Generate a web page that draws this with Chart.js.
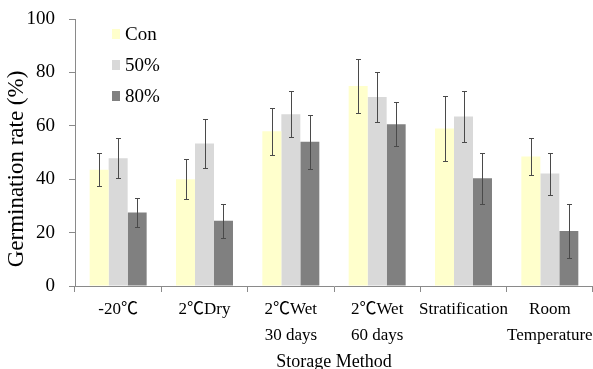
<!DOCTYPE html>
<html><head><meta charset="utf-8">
<script src="https://cdn.jsdelivr.net/npm/chart.js@4/dist/chart.umd.min.js"></script>
<style>html,body{margin:0;padding:0;background:#fff}#wrap{width:593px;height:369px}</style>
</head><body><div id="wrap"><canvas id="c" width="593" height="369"></canvas></div>
<script>
const categories = [['-20℃'], ['2℃Dry'], ['2℃Wet', '30 days'], ['2℃Wet', '60 days'], ['Stratification'], ['Room', 'Temperature']];
const seriesNames = ['Con', '50%', '80%'];
const conValues = [43.5, 40.0, 58.0, 74.9, 59.0, 48.5];
const conErrors = [6.2, 7.5, 8.8, 10.0, 12.2, 6.8];
const p50Values = [47.8, 53.4, 64.3, 70.8, 63.5, 42.1];
const p50Errors = [7.5, 9.1, 8.6, 9.5, 9.6, 7.9];
const p80Values = [27.5, 24.4, 54.0, 60.6, 40.4, 20.6];
const p80Errors = [5.3, 6.4, 10.0, 8.2, 9.6, 10.0];
const yTicks = [0, 20, 40, 60, 80, 100];
const xTitle = 'Storage Method';
const yTitle = 'Germination rate (%)';

const colors = ['#FFFFCC', '#D9D9D9', '#808080'];
const errorSets = [conErrors, p50Errors, p80Errors];
const FAM = "'Liberation Serif', 'Times New Roman', 'Noto Sans CJK SC', serif";
const axisColor = '#8a8a8a';

const errorBars = {
  id: 'errorBars',
  afterDatasetsDraw(chart) {
    const ctx = chart.ctx, ys = chart.scales.y;
    ctx.save();
    ctx.strokeStyle = '#4a4a4a';
    ctx.lineWidth = 1;
    chart.data.datasets.forEach((ds, i) => {
      const meta = chart.getDatasetMeta(i);
      meta.data.forEach((bar, j) => {
        const v = ds.data[j], e = errorSets[i][j];
        const x = Math.round(bar.x) + 0.5;
        const t = Math.round(ys.getPixelForValue(v + e)) + 0.5;
        const b = Math.round(ys.getPixelForValue(v - e)) + 0.5;
        ctx.beginPath();
        ctx.moveTo(x, t); ctx.lineTo(x, b);
        ctx.moveTo(x - 2.5, t); ctx.lineTo(x + 2.5, t);
        ctx.moveTo(x - 2.5, b); ctx.lineTo(x + 2.5, b);
        ctx.stroke();
      });
    });
    ctx.restore();
  }
};

const customLegend = {
  id: 'customLegend',
  afterDraw(chart) {
    const ctx = chart.ctx;
    ctx.save();
    ctx.font = '19px ' + FAM;
    ctx.textBaseline = 'middle';
    ctx.textAlign = 'left';
    chart.data.datasets.forEach((ds, i) => {
      const y = 34 + i * 31;
      ctx.fillStyle = ds.backgroundColor;
      ctx.fillRect(112, y - 5, 8, 10);
      ctx.fillStyle = '#000';
      ctx.fillText(ds.label, 125, y + 1);
    });
    // y axis title
    ctx.font = '23px ' + FAM;
    ctx.textAlign = 'center';
    ctx.textBaseline = 'alphabetic';
    ctx.translate(23, 169);
    ctx.rotate(-Math.PI / 2);
    ctx.fillText(yTitle, 0, 0);
    ctx.restore();
  }
};

const font = { family: FAM, size: 17, lineHeight: 1.5 };

new Chart(document.getElementById('c'), {
  type: 'bar',
  data: {
    labels: categories,
    datasets: [
      { label: seriesNames[0], data: conValues, backgroundColor: colors[0] },
      { label: seriesNames[1], data: p50Values, backgroundColor: colors[1] },
      { label: seriesNames[2], data: p80Values, backgroundColor: colors[2] }
    ]
  },
  options: {
    responsive: false,
    animation: false,
    devicePixelRatio: 1,
    layout: { padding: { top: 19, left: 0, right: 0, bottom: 0 } },
    datasets: { bar: { barPercentage: 1, categoryPercentage: 0.66 } },
    plugins: { legend: { display: false }, tooltip: { enabled: false } },
    scales: {
      x: {
        grid: { display: true, drawOnChartArea: false, color: axisColor, tickLength: 6, offset: true },
        border: { color: axisColor },
        ticks: { font: font, color: '#000', padding: 5, maxRotation: 0, autoSkip: false },
        title: { display: true, text: xTitle, font: { family: FAM, size: 18 }, color: '#000', padding: { top: 0, bottom: -4 } },
        afterFit(s) { s.height = 83; s.paddingLeft = 0; s.paddingRight = 0; }
      },
      y: {
        min: 0, max: 100,
        afterBuildTicks(s) { s.ticks = yTicks.map(v => ({ value: v })); },
        grid: { display: true, drawOnChartArea: false, color: axisColor, tickLength: 6 },
        border: { color: axisColor },
        ticks: { font: { family: FAM, size: 19 }, color: '#000', padding: 14 },
        title: { display: false },
        afterFit(s) { s.width = 75; s.paddingTop = 0; s.paddingBottom = 0; }
      }
    }
  },
  plugins: [errorBars, customLegend]
});
</script>
</body></html>
